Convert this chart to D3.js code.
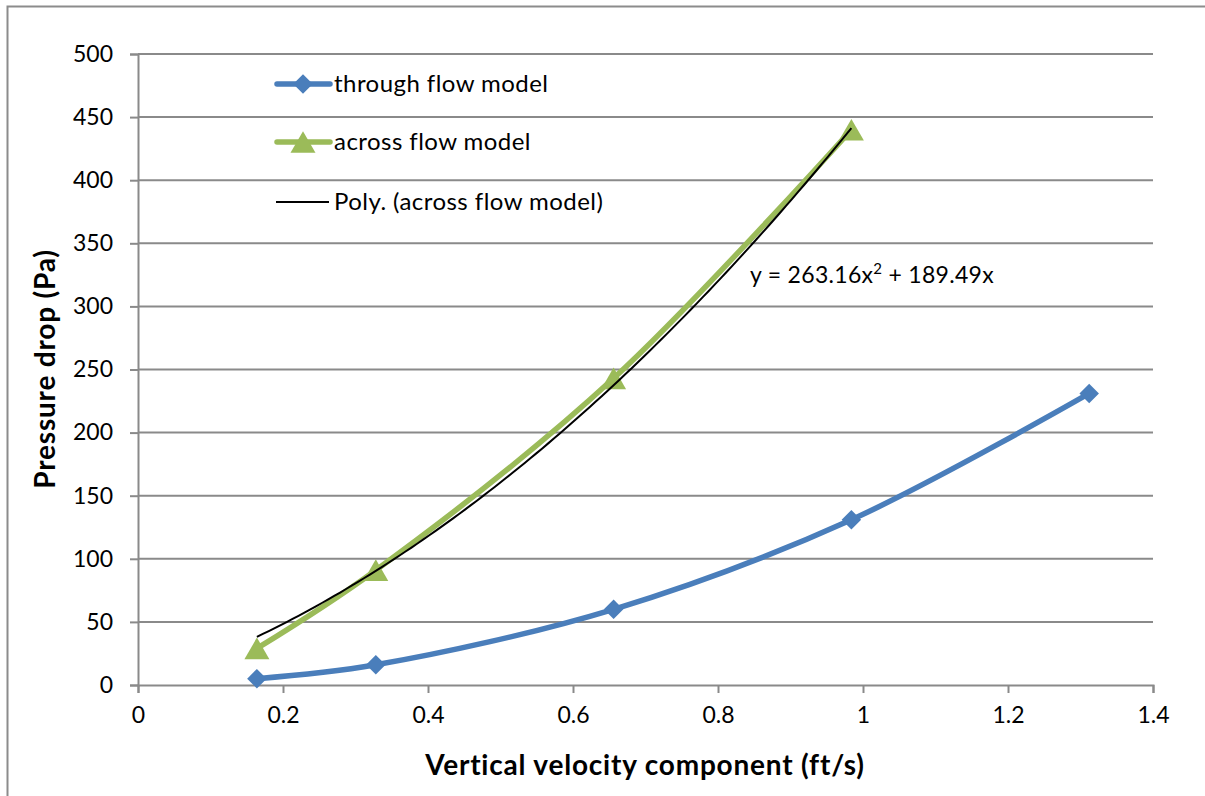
<!DOCTYPE html>
<html>
<head>
<meta charset="utf-8">
<script src="https://cdn.jsdelivr.net/npm/d3@7"></script>
<style>
  html, body { margin: 0; padding: 0; background: #fff; }
  svg { display: block; }
  text { font-family: Lato, "Open Sans", sans-serif; fill: #000; }
</style>
</head>
<body>
<svg id="chart" width="1205" height="796"></svg>
<script>
// Vertical velocity (ft/s) and pressure drop (Pa) for the two models
const throughX = [0.164, 0.328, 0.656, 0.984, 1.312];
const throughY = [5, 16, 60, 131, 231];
const acrossX = [0.164, 0.328, 0.656, 0.984];
const acrossY = [29, 91, 243, 440];
// Second-order polynomial trend (through origin) for the across flow model: a*x^2 + b*x
const polyCoef = [263.16, 189.49];
const xTicks = [0, 0.2, 0.4, 0.6, 0.8, 1, 1.2, 1.4];
const yTicks = [0, 50, 100, 150, 200, 250, 300, 350, 400, 450, 500];
const legendLabels = ["through flow model", "across flow model", "Poly. (across flow model)"];

const blue = "#4a7ebb", green = "#9bbb59", grid = "#8a8a8a";
const svg = d3.select("#chart");

// chart frame
svg.append("rect").attr("x", 7.5).attr("y", 6.5).attr("width", 1210).attr("height", 800)
  .attr("fill", "none").attr("stroke", "#8c8c8c").attr("stroke-width", 2);

const x = d3.scaleLinear().domain([0, 1.4]).range([138, 1153]);
const y = d3.scaleLinear().domain([0, 500]).range([685, 54]);

// horizontal gridlines
svg.append("g").selectAll("line").data(yTicks.filter(d => d > 0)).join("line")
  .attr("x1", x(0)).attr("x2", x(1.4)).attr("y1", d => y(d)).attr("y2", d => y(d))
  .attr("stroke", grid).attr("stroke-width", 2);

// axes
const yAxis = svg.append("g").attr("transform", `translate(${x(0)},0)`)
  .call(d3.axisLeft(y).tickValues(yTicks).tickSize(8).tickPadding(17).tickFormat(d3.format("d")));
const xAxis = svg.append("g").attr("transform", `translate(0,${y(0)})`)
  .call(d3.axisBottom(x).tickValues(xTicks).tickSize(8).tickPadding(14).tickFormat(d => d3.format("")(d)));
[yAxis, xAxis].forEach(a => {
  a.select(".domain").attr("stroke", grid).attr("stroke-width", 2);
  a.selectAll(".tick line").attr("stroke", grid).attr("stroke-width", 2);
  a.selectAll(".tick text").attr("font-size", 23).attr("font-family", "Lato, sans-serif").attr("fill", "#000");
});

// axis titles
svg.append("text").attr("x", 645).attr("y", 775).attr("text-anchor", "middle")
  .attr("font-size", 28).attr("font-weight", "bold").attr("letter-spacing", 0.8)
  .text("Vertical velocity component (ft/s)");
svg.append("text").attr("transform", "translate(55,369) rotate(-90)").attr("text-anchor", "middle")
  .attr("font-size", 28).attr("font-weight", "bold").attr("letter-spacing", 0.8)
  .text("Pressure drop (Pa)");

const line = d3.line().x(d => x(d[0])).y(d => y(d[1])).curve(d3.curveCatmullRom.alpha(0.5));

// through flow model
const throughPts = throughX.map((v, i) => [v, throughY[i]]);
svg.append("path").datum(throughPts).attr("d", line).attr("fill", "none")
  .attr("stroke", blue).attr("stroke-width", 5.5).attr("stroke-linejoin", "round");
const diamond = d3.symbol().type(d3.symbolSquare).size(190);
svg.append("g").selectAll("path").data(throughPts).join("path")
  .attr("transform", d => `translate(${x(d[0])},${y(d[1])}) rotate(45)`)
  .attr("d", diamond).attr("fill", blue);

// across flow model
const acrossPts = acrossX.map((v, i) => [v, acrossY[i]]);
svg.append("path").datum(acrossPts).attr("d", line).attr("fill", "none")
  .attr("stroke", green).attr("stroke-width", 5.5).attr("stroke-linejoin", "round");
const triSize = 270;
const tri = d3.symbol().type(d3.symbolTriangle).size(triSize);
// centre the triangle's bounding box (not its centroid) on the point
const triSide = Math.sqrt(triSize * 4 / Math.sqrt(3));
const triShift = (triSide * Math.sqrt(3) / 2) / 6;
svg.append("g").selectAll("path").data(acrossPts).join("path")
  .attr("transform", d => `translate(${x(d[0])},${y(d[1]) + triShift})`)
  .attr("d", tri).attr("fill", green);

// polynomial trendline
const [a, b] = polyCoef;
const trendPts = d3.range(0, 101).map(i => {
  const v = acrossX[0] + (acrossX[acrossX.length - 1] - acrossX[0]) * i / 100;
  return [v, a * v * v + b * v];
});
svg.append("path").datum(trendPts).attr("d", d3.line().x(d => x(d[0])).y(d => y(d[1])))
  .attr("fill", "none").attr("stroke", "#000").attr("stroke-width", 2);

// trendline equation
const eq = svg.append("text").attr("x", 750).attr("y", 283).attr("font-size", 23).attr("letter-spacing", 0.3);
eq.append("tspan").text(`y = ${a.toFixed(2)}x`);
eq.append("tspan").attr("dy", -9).attr("font-size", 15).text("2");
eq.append("tspan").attr("dy", 9).text(` + ${b.toFixed(2)}x`);

// legend
const legendY = [84, 142, 202];
const lg = svg.append("g");
lg.append("line").attr("x1", 277).attr("x2", 330).attr("y1", legendY[0]).attr("y2", legendY[0])
  .attr("stroke", blue).attr("stroke-width", 5.5).attr("stroke-linecap", "round");
lg.append("path").attr("transform", `translate(303,${legendY[0]}) rotate(45)`)
  .attr("d", diamond).attr("fill", blue);
lg.append("line").attr("x1", 277).attr("x2", 330).attr("y1", legendY[1]).attr("y2", legendY[1])
  .attr("stroke", green).attr("stroke-width", 5.5).attr("stroke-linecap", "round");
lg.append("path").attr("transform", `translate(303,${legendY[1] + triShift})`).attr("d", tri).attr("fill", green);
lg.append("line").attr("x1", 276).attr("x2", 329).attr("y1", legendY[2]).attr("y2", legendY[2])
  .attr("stroke", "#000").attr("stroke-width", 2);
lg.selectAll("text").data(legendLabels).join("text")
  .attr("x", 334).attr("y", (d, i) => legendY[i] + 8).attr("font-size", 24).attr("letter-spacing", 0.45)
  .text(d => d);
</script>
</body>
</html>
